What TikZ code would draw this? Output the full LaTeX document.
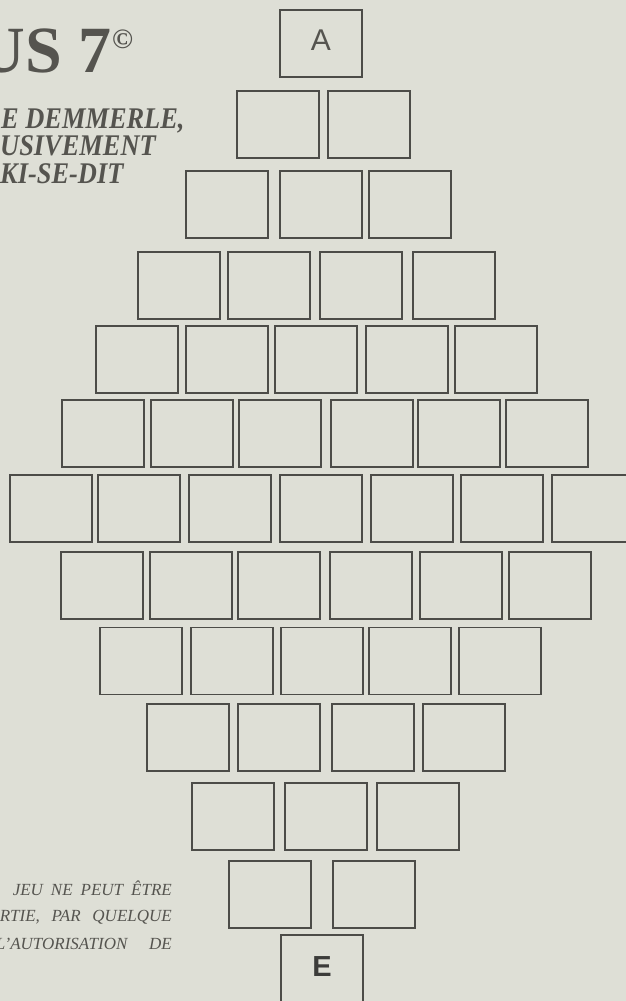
\documentclass[tikz,border=0pt]{standalone}
\usepackage{fontspec}
\setmainfont{Liberation Serif}
\newfontfamily\lsans{Liberation Sans}
\usepackage{graphicx}
\definecolor{paper}{HTML}{DEDFD6}
\definecolor{boxline}{HTML}{4C4C48}
\definecolor{ink}{HTML}{55544F}
\definecolor{darkink}{HTML}{3C3C3A}
\begin{document}
\begin{tikzpicture}[x=1pt,y=-1pt,
  cell/.style={draw=boxline, line width=1.3pt, minimum width=82pt, minimum height=67pt, inner sep=0pt, outer sep=0pt},
  lbl/.style={inner sep=0pt, text=ink},
  txt/.style={inner sep=0pt, text=ink}]
\useasboundingbox (0,0) rectangle (626,1001);
\clip (0,0) rectangle (626,1001);
\fill[paper] (0,0) rectangle (626,1001);

% title block
\node[txt, anchor=base east] (title) at (112,72) {\fontsize{66}{66}\selectfont\bfseries US 7};
\node[txt, anchor=base west] (copy) at (112,48) {\fontsize{28}{28}\selectfont\bfseries ©};
\node[txt, anchor=base west] (s1) at (1,128) {\scalebox{0.88}[1]{\fontsize{30}{30}\selectfont\bfseries\itshape E DEMMERLE,}};
\node[txt, anchor=base west] (s2) at (0,155) {\scalebox{0.88}[1]{\fontsize{30}{30}\selectfont\bfseries\itshape USIVEMENT}};
\node[txt, anchor=base west] (s3) at (0,183) {\scalebox{0.88}[1]{\fontsize{30}{30}\selectfont\bfseries\itshape KI-SE-DIT}};

% bottom note
\node[txt, anchor=base east] (n1) at (172,895.5) {\fontsize{17}{17}\selectfont\itshape\makebox[159pt][s]{JEU NE PEUT ÊTRE}};
\node[txt, anchor=base east] (n2) at (172,921.5) {\fontsize{17}{17}\selectfont\itshape\makebox[172pt][s]{RTIE, PAR QUELQUE}};
\node[txt, anchor=base east] (n3) at (172,949) {\fontsize{17}{17}\selectfont\itshape\makebox[176pt][s]{L'AUTORISATION DE}};

% grid of boxes
\node[cell] (boxA) at (321,43.5) {};
\node[lbl] (labA) at ([yshift=3.5pt]boxA.center) {\lsans\fontsize{30}{30}\selectfont A};

\foreach \L [count=\i] in {237,328} \node[cell] (r2c\i) at ({\L+41},124.5) {};
\foreach \L [count=\i] in {186,280,369} \node[cell] (r3c\i) at ({\L+41},204.5) {};
\foreach \L [count=\i] in {138,228,320,413} \node[cell] (r4c\i) at ({\L+41},285.5) {};
\foreach \L [count=\i] in {96,186,275,366,455} \node[cell] (r5c\i) at ({\L+41},359.5) {};
\foreach \L [count=\i] in {62,151,239,331,418,506} \node[cell] (r6c\i) at ({\L+41},433.5) {};
\foreach \L [count=\i] in {10,98,189,280,371,461,552} \node[cell] (r7c\i) at ({\L+41},508.5) {};
\foreach \L [count=\i] in {61,150,238,330,420,509} \node[cell] (r8c\i) at ({\L+41},585.5) {};
\foreach \L [count=\i] in {100,191,281,369,459} \node[cell] (r9c\i) at ({\L+41},661) {};
\foreach \L [count=\i] in {147,238,332,423} \node[cell] (r10c\i) at ({\L+41},737.5) {};
\foreach \L [count=\i] in {192,285,377} \node[cell] (r11c\i) at ({\L+41},816.5) {};
\foreach \L [count=\i] in {229,333} \node[cell] (r12c\i) at ({\L+41},894.5) {};

\node[cell] (boxE) at (322,968.5) {};
\node[lbl, text=darkink] (labE) at ([yshift=1.5pt]boxE.center) {\lsans\bfseries\fontsize{29}{29}\selectfont E};
\end{tikzpicture}
\end{document}
